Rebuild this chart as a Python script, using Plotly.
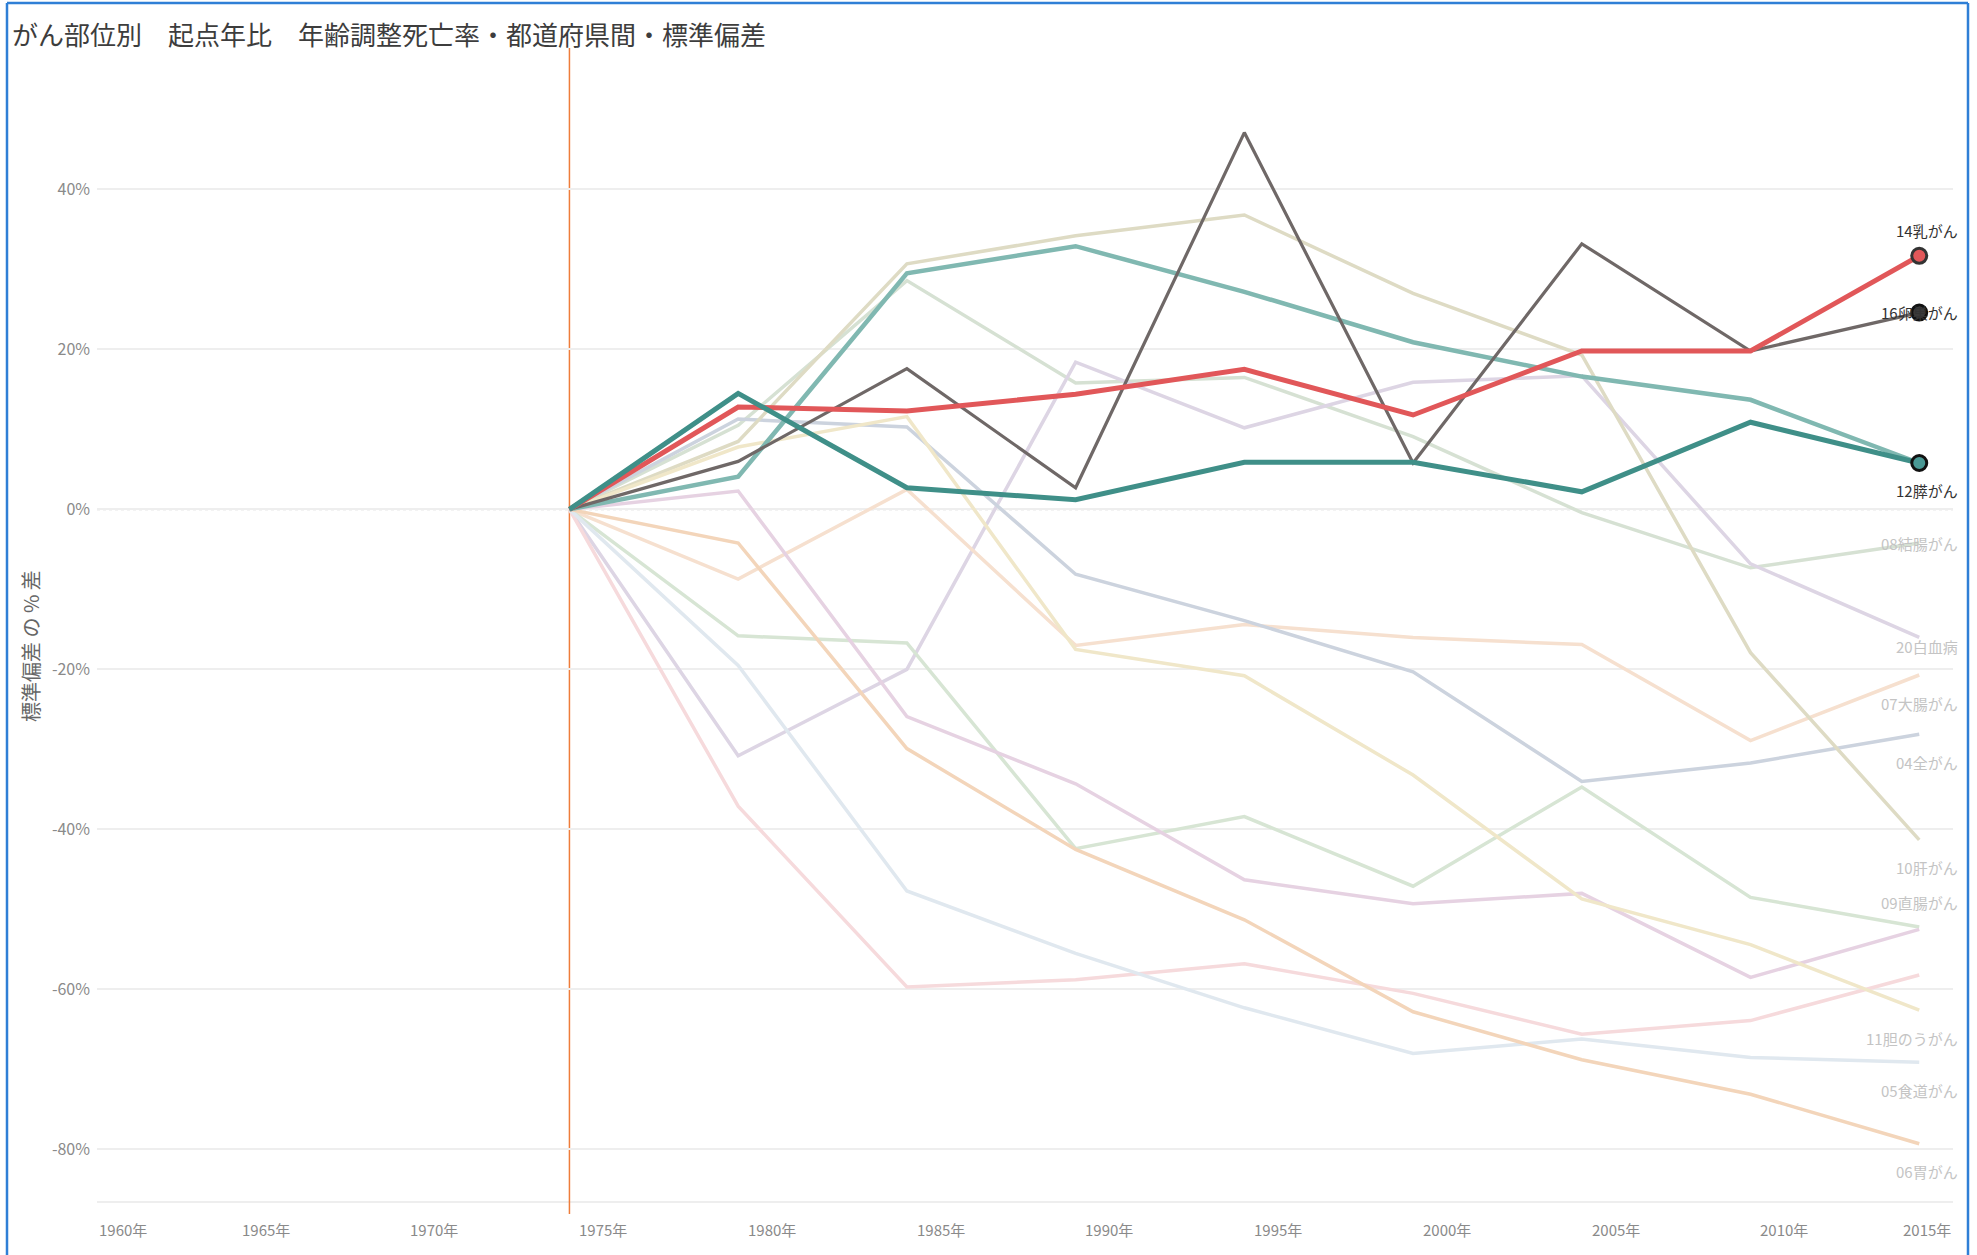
import plotly.graph_objects as go

# ---------------- data ----------------
years = [1974, 1979, 1984, 1989, 1994, 1999, 2004, 2009, 2014]

breast_14 = [0, 12.8, 12.3, 14.4, 17.5, 11.8, 19.8, 19.8, 31.7]
ovary_16 = [0, 6.0, 17.6, 2.7, 47.1, 5.8, 33.2, 19.8, 24.6]
pancreas_12 = [0, 14.5, 2.7, 1.2, 5.9, 5.9, 2.2, 10.9, 5.8]
teal_unlabeled = [0, 4.1, 29.5, 32.9, 27.2, 20.9, 16.6, 13.7, 5.8]
colon_08 = [0, 10.5, 28.6, 15.8, 16.5, 9.1, -0.4, -7.3, -4.2]
leukemia_20 = [0, -30.8, -20.0, 18.4, 10.2, 15.9, 16.7, -6.8, -16.0]
colorectal_07 = [0, -8.7, 2.5, -17.0, -14.4, -16.0, -16.9, -28.9, -20.7]
all_04 = [0, 11.3, 10.3, -8.1, -13.9, -20.3, -34.0, -31.7, -28.1]
liver_10 = [0, 8.5, 30.7, 34.2, 36.8, 27.0, 19.3, -17.9, -41.3]
rectum_09 = [0, -15.8, -16.7, -42.4, -38.4, -47.1, -34.7, -48.5, -52.2]
mauve_unlabeled = [0, 2.3, -25.9, -34.3, -46.3, -49.3, -48.0, -58.5, -52.5]
pink_unlabeled = [0, -37.1, -59.7, -58.8, -56.8, -60.5, -65.6, -63.9, -58.2]
gallbladder_11 = [0, 7.8, 11.6, -17.5, -20.8, -33.2, -48.7, -54.4, -62.6]
esophagus_05 = [0, -19.5, -47.7, -55.5, -62.3, -68.0, -66.2, -68.5, -69.1]
stomach_06 = [0, -4.2, -29.9, -42.5, -51.3, -62.8, -68.8, -73.1, -79.3]

label_14 = "14乳がん"
label_16 = "16卵巣がん"
label_12 = "12膵がん"
label_08 = "08結腸がん"
label_20 = "20白血病"
label_07 = "07大腸がん"
label_04 = "04全がん"
label_10 = "10肝がん"
label_09 = "09直腸がん"
label_11 = "11胆のうがん"
label_05 = "05食道がん"
label_06 = "06胃がん"

y_tick_vals = [-80, -60, -40, -20, 0, 20, 40]
y_tick_text = ["-80%", "-60%", "-40%", "-20%", "0%", "20%", "40%"]
x_tick_years = [1960, 1965, 1970, 1975, 1980, 1985, 1990, 1995, 2000, 2005, 2010, 2015]

title_text = "がん部位別　起点年比　年齢調整死亡率・都道府県間・標準偏差"
y_title_text = "標準偏差 の % 差"

# ---------------- layout geometry (px) ----------------
W, H = 1977, 1255
L, R, T, B = 97, 1953, 48, 1214
PX_PER_PCT = 8.0
ZERO_PY = 509.4
y_top = (ZERO_PY - T) / PX_PER_PCT
y_bot = -(B - ZERO_PY) / PX_PER_PCT


def xp(px):
    return (px - L) / (R - L)


def yp(py):
    return (B - py) / (B - T)


FONT = "Noto Sans CJK JP, Noto Sans, sans-serif"

# (values, label, color, width, label yshift)
faded = [
    (colon_08, label_08, "#d6e1d3", 3.5, 0),
    (leukemia_20, label_20, "#ddd5e4", 3.5, -9),
    (colorectal_07, label_07, "#f6e0cf", 3.5, -28),
    (all_04, label_04, "#ccd3de", 3.5, -28),
    (liver_10, label_10, "#dedbc4", 3.5, -28),
    (rectum_09, label_09, "#d7e5d4", 3.5, 25),
    (mauve_unlabeled, None, "#e6d2e2", 3.5, 0),
    (pink_unlabeled, None, "#f6dadc", 3.5, 0),
    (gallbladder_11, label_11, "#f0e7c9", 3.5, -28),
    (esophagus_05, label_05, "#e0e8ef", 3.5, -28),
    (stomach_06, label_06, "#f3d5ba", 3.5, -28),
]

highlight = [
    (teal_unlabeled, None, "#80b8b1", 4.5, 0, None),
    (ovary_16, label_16, "#6f6867", 3.2, 0, ("#3a3a3a", "#111111")),
    (breast_14, label_14, "#E15759", 5, 25, ("#E15759", "#333333")),
    (pancreas_12, label_12, "#3f8f88", 5, -27, ("#499894", "#111111")),
]

fig = go.Figure()
annotations = []

for vals, lab, col, wid, ysh in faded:
    fig.add_trace(go.Scatter(x=years, y=vals, mode="lines", name=lab or "",
                             line=dict(color=col, width=wid), hoverinfo="skip",
                             showlegend=False))
    if lab:
        annotations.append(dict(x=years[-1], y=vals[-1], xref="x", yref="y",
                                text=lab, showarrow=False, xanchor="right",
                                yanchor="middle", xshift=41, yshift=ysh,
                                font=dict(family=FONT, size=15, color="#c4c4c4")))

for vals, lab, col, wid, ysh, mk in highlight:
    fig.add_trace(go.Scatter(x=years, y=vals, mode="lines", name=lab or "",
                             line=dict(color=col, width=wid), hoverinfo="skip",
                             showlegend=False))

for vals, lab, col, wid, ysh, mk in highlight:
    if mk:
        fig.add_trace(go.Scatter(x=[years[-1]], y=[vals[-1]], mode="markers",
                                 marker=dict(size=15, color=mk[0],
                                             line=dict(color=mk[1], width=3)),
                                 hoverinfo="skip", showlegend=False))
    if lab:
        annotations.append(dict(x=years[-1], y=vals[-1], xref="x", yref="y",
                                text=lab, showarrow=False, xanchor="right",
                                yanchor="middle", xshift=41, yshift=ysh,
                                font=dict(family=FONT, size=15, color="#333333")))

# x tick labels
for yr in x_tick_years:
    anchor = "center"
    if yr == x_tick_years[0]:
        anchor = "left"
    elif yr == x_tick_years[-1]:
        anchor = "right"
    annotations.append(dict(x=yr, y=yp(1229), xref="x", yref="paper",
                            text=f"{yr}年", showarrow=False, xanchor=anchor,
                            yanchor="middle",
                            font=dict(family=FONT, size=15, color="#8a8a8a")))

# y axis title
annotations.append(dict(x=xp(31), y=yp(646), xref="paper", yref="paper",
                        text=y_title_text, showarrow=False, textangle=-90,
                        xanchor="center", yanchor="middle",
                        font=dict(family=FONT, size=20, color="#666666")))

shapes = [
    dict(type="line", xref="paper", yref="y", x0=0, x1=1, y0=0, y1=0,
         line=dict(color="#cfcfcf", width=1.5, dash="dot"), layer="below"),
    dict(type="line", xref="paper", yref="paper", x0=0, x1=1, y0=yp(1202), y1=yp(1202),
         line=dict(color="#e8e8e8", width=1.5), layer="below"),
    dict(type="line", xref="x", yref="paper", x0=years[0], x1=years[0], y0=0, y1=1,
         line=dict(color="#ee7d3a", width=1.5), layer="below"),
    dict(type="line", xref="paper", yref="paper", x0=xp(7), x1=xp(7), y0=yp(3), y1=yp(1260),
         line=dict(color="#2f7fd6", width=2.5)),
    dict(type="line", xref="paper", yref="paper", x0=xp(7), x1=xp(1968), y0=yp(3), y1=yp(3),
         line=dict(color="#2f7fd6", width=2.5)),
    dict(type="line", xref="paper", yref="paper", x0=xp(1968), x1=xp(1968), y0=yp(3), y1=yp(1260),
         line=dict(color="#2f7fd6", width=2.5)),
]

fig.update_layout(
    width=W, height=H, autosize=False,
    margin=dict(l=L, r=W - R, t=T, b=H - B, pad=0),
    paper_bgcolor="white", plot_bgcolor="white",
    title=dict(text=title_text, x=12 / W, y=1 - 36 / H, xref="container",
               yref="container", xanchor="left", yanchor="middle",
               font=dict(family=FONT, size=26, color="#3d3d3d")),
    xaxis=dict(range=[1960, 2015], showgrid=False, zeroline=False,
               showticklabels=False, showline=False, ticks=""),
    yaxis=dict(range=[y_bot, y_top], tickmode="array", tickvals=y_tick_vals,
               ticktext=y_tick_text,
               showgrid=True, gridcolor="#eeeeee", gridwidth=1.5,
               zeroline=False, showline=False, ticks="",
               ticklabelstandoff=6,
               tickfont=dict(family=FONT, size=16, color="#8a8a8a")),
    annotations=annotations,
    shapes=shapes,
)

fig.write_html("out.html", config={"displayModeBar": False},
               post_script="document.body.style.margin='0';document.body.style.overflow='hidden';")
